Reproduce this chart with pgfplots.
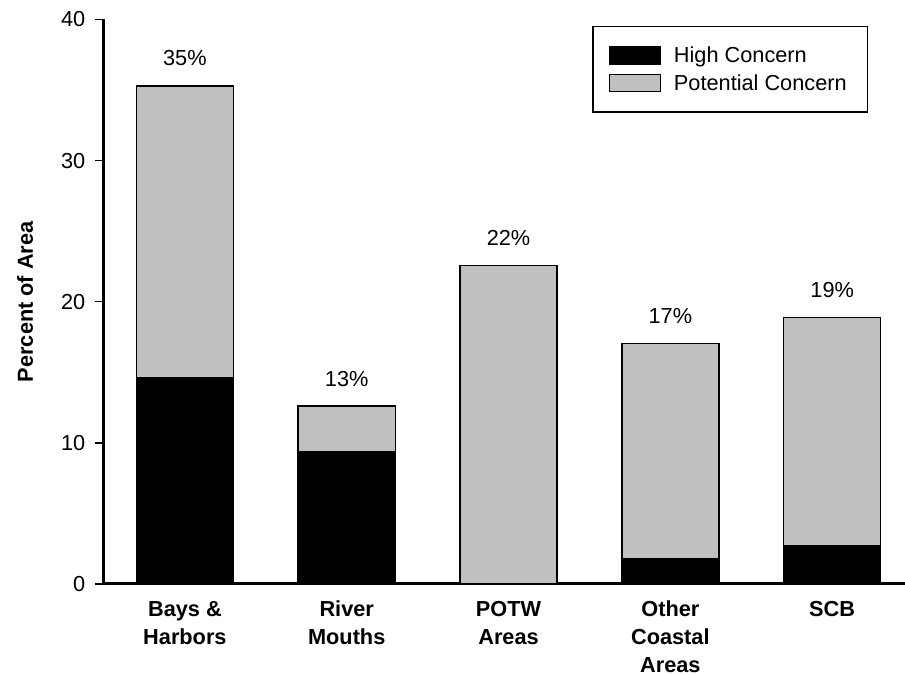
\documentclass[border=0pt]{standalone}
\usepackage{fontspec}
\setmainfont{Liberation Sans}
\usepackage{pgfplots}
\usepackage{pgfplotstable}
\pgfplotsset{compat=1.18}

\def\px{0.75pt}
\def\chartfont{\fontsize{16.3}{20.8}\selectfont}
\definecolor{potgray}{RGB}{192,192,192}

% percent of area, high and potential concern stacked
\pgfplotstableread{
x high potential cap pct
0 14.6 20.7 0.01 35
1 9.35 3.25 0.01 13
2 0 22.56 0.01 22
3 1.82 15.21 0.01 17
4 2.69 16.18 0.01 19
}\concern

\begin{document}
\begin{tikzpicture}[font=\chartfont]
\begin{axis}[
    scale only axis,
    width=801*\px, height=564.5*\px,
    ybar stacked, bar width=0.6,
    xmin=-0.5, xmax=4.45,
    ymin=0, ymax=40,
    ytick={0,10,20,30,40},
    xtick=data,
    xticklabels={\strut Bays \&\\Harbors, \strut River\\Mouths, \strut POTW\\Areas,
        \strut Other\\Coastal\\Areas, \strut SCB},
    xticklabel style={align=center, font=\chartfont\bfseries, anchor=north, yshift=0.3pt},
    yticklabel style={xshift=-3.75pt},
    x tick style={draw=none},
    axis x line*=bottom, axis y line*=left,
    axis line style={line width=2.25pt, -},
    tick align=outside, major tick length=6.75pt,
    y tick style={line width=1.1pt, black},
    /pgf/number format/assume math mode=true,
    ylabel={\bfseries Percent of Area},
    every axis y label/.style={at={(axis description cs:-0.0986,0.5)}, rotate=90, anchor=center},
    legend style={at={(axis description cs:0.9538,0.989)}, anchor=north east,
        draw=black, line width=1.1pt, inner xsep=10.4pt, inner ysep=13pt,
        cells={anchor=west}, row sep=3.6pt},
    legend image code/.code={\path (0pt,0pt) (47.25pt,0pt);
        \draw[#1, line width=1.1pt] (1.6pt,-6.4pt) rectangle (39.6pt,6.4pt);},
]
\addplot[fill=black, draw=black, line width=1.1pt] table[x=x, y=high] {\concern};
\addlegendentry{High Concern}
\addplot[fill=potgray, draw=black, line width=1.1pt] table[x=x, y=potential] {\concern};
\addlegendentry{Potential Concern\kern3pt}
% thin invisible series that carries the total labels on top of each stack
\addplot[draw=none, fill=none, forget plot,
    point meta=explicit,
    nodes near coords={\pgfmathprintnumber{\pgfplotspointmeta}\%},
    nodes near coords style={anchor=base, yshift=15pt, black}]
    table[x=x, y=cap, meta=pct] {\concern};
\end{axis}
\pgfresetboundingbox
\path[use as bounding box] ([shift={(-104*\px,-91*\px)}]current axis.south west) rectangle ([shift={(0pt,19.5*\px)}]current axis.north east);
\end{tikzpicture}
\end{document}
